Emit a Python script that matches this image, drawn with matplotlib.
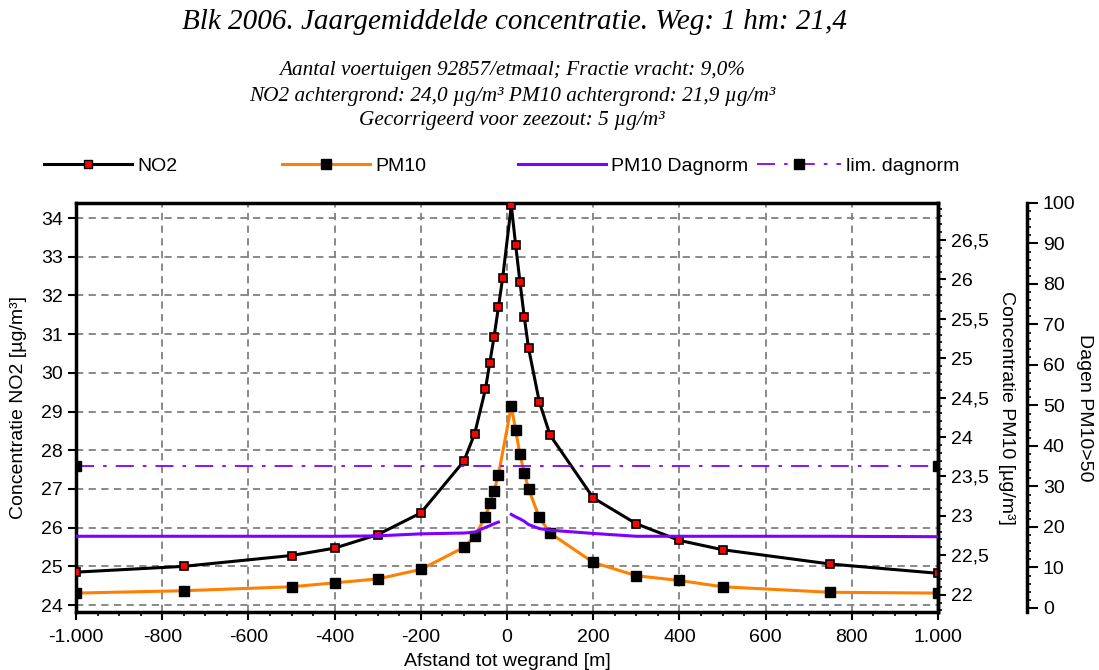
import numpy as np
import matplotlib
matplotlib.use("Agg")
import matplotlib.pyplot as plt
from matplotlib.ticker import FuncFormatter, MultipleLocator
from matplotlib.lines import Line2D

plt.rcParams['font.family'] = ['Liberation Sans', 'DejaVu Sans']

# afstand tot wegrand [m]
x_pts = [-1000, -750, -500, -400, -300, -200, -100, -75, -50, -40, -30, -20, -10,
         10, 20, 30, 40, 50, 75, 100, 200, 300, 400, 500, 750, 1000]
no2 = [24.85, 25.00, 25.28, 25.47, 25.82, 26.38, 27.72, 28.43, 29.58, 30.26, 30.93, 31.69, 32.46,
       34.33, 33.31, 32.36, 31.45, 30.64, 29.25, 28.39, 26.77, 26.10, 25.67, 25.43, 25.06, 24.82]

x_pm = [-1000, -750, -500, -400, -300, -200, -100, -75, -50, -40, -30, -20,
        10, 20, 30, 40, 50, 75, 100, 200, 300, 400, 500, 750, 1000]
pm10 = [22.02, 22.05, 22.10, 22.15, 22.20, 22.32, 22.60, 22.74, 22.99, 23.16, 23.32, 23.52,
        24.39, 24.09, 23.78, 23.55, 23.34, 22.98, 22.78, 22.41, 22.24, 22.18, 22.10, 22.03, 22.02]

# dagen PM10 > 50 (links en rechts van de weg)
x_dag_l = [-1000, -750, -500, -400, -300, -200, -100, -75, -50, -40, -30, -20]
dag_l = [17.7, 17.7, 17.7, 17.7, 17.8, 18.3, 18.5, 18.7, 19.9, 20.3, 20.8, 21.2]
x_dag_r = [10, 20, 30, 40, 50, 75, 100, 200, 300, 400, 500, 750, 1000]
dag_r = [23.1, 22.5, 22.0, 21.4, 20.6, 19.6, 19.2, 18.4, 17.7, 17.7, 17.7, 17.7, 17.6]

x_lim = [-1000, 1000]
lim_dag = [35, 35]

purple = '#8000ff'
orange = '#ff8000'

fig = plt.figure(figsize=(10.99, 6.70), dpi=100)
ax = fig.add_axes([76/1099, 1-612/670, 862/1099, 409/670])
ax2 = ax.twinx()
ax3 = ax.twinx()
ax3.spines['right'].set_position(('axes', 1.103))

# lijnen
ax.plot(x_pts, no2, color='black', lw=2.2, marker='s', ms=6,
        mfc='red', mec='black', mew=1.2, zorder=3)
ax2.plot(x_pm, pm10, color=orange, lw=2.2, marker='s', ms=7,
         mfc='black', mec='black', zorder=3)
ax3.plot(x_dag_l, dag_l, color=purple, lw=2.2)
ax3.plot(x_dag_r, dag_r, color=purple, lw=2.2)
ax3.plot(x_lim, lim_dag, color=purple, lw=1.3, dashes=[10, 5, 2, 5],
         marker='s', ms=7, mfc='black', mec='black')

ax.set_xlim(-1000, 1000)
ax.set_ylim(23.82, 34.39)
ax2.set_ylim(21.78, 26.97)
ax3.set_ylim(-1, 100)

ax.xaxis.set_major_locator(MultipleLocator(200))
ax.xaxis.set_minor_locator(MultipleLocator(50))
ax.yaxis.set_major_locator(MultipleLocator(1))
ax2.yaxis.set_major_locator(MultipleLocator(0.5))
ax2.yaxis.set_minor_locator(MultipleLocator(0.1))
ax3.yaxis.set_minor_locator(MultipleLocator(2))
ax3.set_yticks(range(0, 101, 10))

ax.xaxis.set_major_formatter(FuncFormatter(lambda v, p: f'{int(v):,}'.replace(',', '.')))
ax2.yaxis.set_major_formatter(FuncFormatter(lambda v, p: f'{v:g}'.replace('.', ',')))

ax.grid(True, which='major', color='#808080', ls=(0, (4, 3)), lw=1.3)

fs = 14
for a in (ax, ax2, ax3):
    a.tick_params(labelsize=fs, direction='out', width=1.5, colors='black')
    a.tick_params(which='minor', direction='out', width=1.2, length=3)
ax.tick_params(length=6)
ax.tick_params(axis='x', pad=6)
ax2.tick_params(length=6)
ax3.tick_params(length=8)

for s in ax.spines.values():
    s.set_linewidth(2.5)
ax2.spines['right'].set_linewidth(2.5)
for s in ('left', 'top', 'bottom'):
    ax2.spines[s].set_visible(False)
    ax3.spines[s].set_visible(False)
ax3.spines['right'].set_linewidth(2.5)

ax.set_ylabel('Concentratie NO2 [µg/m³]', fontsize=fs, va='center')
ax.yaxis.set_label_coords((19-76)/862, 0.5)
ax2.set_ylabel('Concentratie PM10 [µg/m³]', fontsize=fs, rotation=270, va='center')
ax2.yaxis.set_label_coords((1007-76)/862, 0.5)
ax3.set_ylabel('Dagen PM10>50', fontsize=fs, rotation=270, va='center')
ax3.yaxis.set_label_coords((1085-76)/862, 0.5)
ax.set_xlabel('Afstand tot wegrand [m]', fontsize=fs, labelpad=5)

# titels
serif = dict(family='Liberation Serif', style='italic', ha='center', va='center')
fig.text(515/1099, 1-22/670, 'Blk 2006. Jaargemiddelde concentratie. Weg: 1 hm: 21,4',
         fontsize=21, **serif)
fig.text(512/1099, 1-70/670, 'Aantal voertuigen 92857/etmaal; Fractie vracht: 9,0%',
         fontsize=15.3, **serif)
fig.text(512/1099, 1-96/670, 'NO2 achtergrond: 24,0 µg/m³ PM10 achtergrond: 21,9 µg/m³',
         fontsize=15.3, **serif)
fig.text(512/1099, 1-121/670, 'Gecorrigeerd voor zeezout: 5 µg/m³',
         fontsize=15.3, **serif)

# legenda, elk item apart
items = [
    (44, Line2D([], [], color='black', lw=2.2, marker='s', ms=6, mfc='red', mec='black'), 'NO2', 4.5),
    (282, Line2D([], [], color=orange, lw=2.2, marker='s', ms=7, mfc='black', mec='black'), 'PM10', 4.5),
    (518, Line2D([], [], color=purple, lw=2.2), 'PM10 Dagnorm', 4.5),
    (757, Line2D([], [], color=purple, lw=1.3, dashes=[10, 5, 2, 5], marker='s', ms=7,
                 mfc='black', mec='black'), 'lim. dagnorm', 4.3),
]
for xp, h, lab, hl in items:
    fig.legend([h], [lab], loc='center left', bbox_to_anchor=(xp/1099, 1-166/670),
               frameon=False, fontsize=fs, handlelength=hl, handletextpad=0.3,
               borderpad=0, borderaxespad=0)

fig.savefig('out.png', dpi=100)
